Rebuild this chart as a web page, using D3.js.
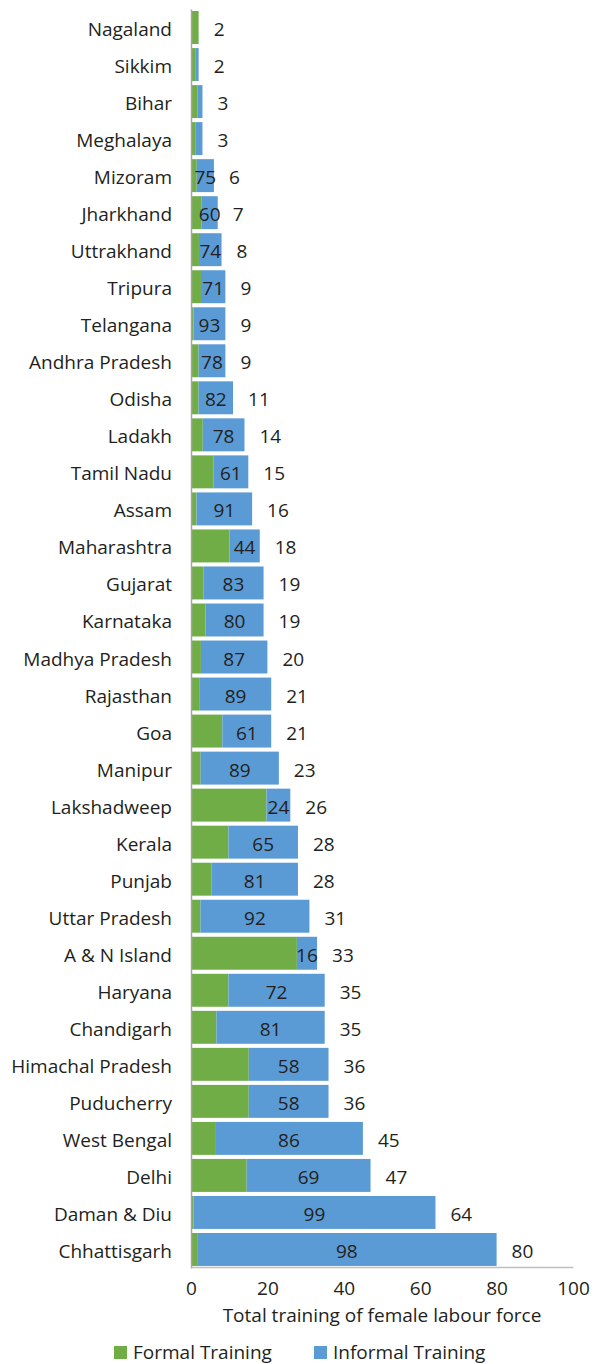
<!DOCTYPE html>
<html>
<head>
<meta charset="utf-8">
<script src="https://cdn.jsdelivr.net/npm/d3@7"></script>
<style>
  body { margin: 0; background: #fff; }
  svg { display: block; }
  text { font-family: "Open Sans", "Noto Sans", sans-serif; fill: #231f20; }
</style>
</head>
<body>
<svg id="chart" width="599" height="1364"></svg>
<script>
// States / UTs, ordered by total training of the female labour force
const states = [
  "Nagaland", "Sikkim", "Bihar", "Meghalaya", "Mizoram", "Jharkhand", "Uttrakhand",
  "Tripura", "Telangana", "Andhra Pradesh", "Odisha", "Ladakh", "Tamil Nadu", "Assam",
  "Maharashtra", "Gujarat", "Karnataka", "Madhya Pradesh", "Rajasthan", "Goa", "Manipur",
  "Lakshadweep", "Kerala", "Punjab", "Uttar Pradesh", "A & N Island", "Haryana",
  "Chandigarh", "Himachal Pradesh", "Puducherry", "West Bengal", "Delhi",
  "Daman & Diu", "Chhattisgarh"
];

// Total training (formal + informal)
const totals = [
  2, 2, 3, 3, 6, 7, 8,
  9, 9, 9, 11, 14, 15, 16,
  18, 19, 19, 20, 21, 21, 23,
  26, 28, 28, 31, 33, 35,
  35, 36, 36, 45, 47,
  64, 80
];

// Informal training as a share (%) of the total
const informalShare = [
  0, 45, 45, 63, 75, 60, 74,
  71, 93, 78, 82, 78, 61, 91,
  44, 83, 80, 87, 89, 61, 89,
  24, 65, 81, 92, 16, 72,
  81, 58, 58, 86, 69,
  99, 98
];

const seriesNames = ["Formal Training", "Informal Training"];
const xTicks = [0, 20, 40, 60, 80, 100];
const axisTitle = "Total training of female labour force";

const colors = { "Formal Training": "#70ad47", "Informal Training": "#5b9bd5" };

const rows = states.map((s, i) => ({
  state: s,
  total: totals[i],
  share: informalShare[i],
  "Formal Training": totals[i] * (100 - informalShare[i]) / 100,
  "Informal Training": totals[i] * informalShare[i] / 100
}));

const svg = d3.select("#chart");
const fs = 19;
const labelShift = 8.5; // baseline offset below bar centre

const x = d3.scaleLinear().domain([0, 100]).range([191, 573]);
const y = d3.scaleBand()
  .domain(states)
  .range([9, 1268])
  .paddingInner(0.11)
  .paddingOuter(0.055);
const yMid = s => y(s) + y.bandwidth() / 2;

const stacked = d3.stack().keys(seriesNames)(rows);

// Bars
svg.append("g")
  .selectAll("g")
  .data(stacked)
  .join("g")
  .attr("fill", d => colors[d.key])
  .selectAll("rect")
  .data(d => d)
  .join("rect")
  .attr("x", d => x(d[0]))
  .attr("y", d => y(d.data.state))
  .attr("width", d => x(d[1]) - x(d[0]))
  .attr("height", y.bandwidth());

// Informal share labels, centred on the informal segment
const informal = stacked[1];
svg.append("g")
  .selectAll("text")
  .data(informal.filter(d => x(d[1]) - x(d[0]) > 10))
  .join("text")
  .attr("x", d => (x(d[0]) + x(d[1])) / 2)
  .attr("y", d => yMid(d.data.state) + labelShift)
  .attr("text-anchor", "middle")
  .style("font-size", fs + "px")
  .text(d => d.data.share);

// Total labels to the right of each bar
svg.append("g")
  .selectAll("text")
  .data(rows)
  .join("text")
  .attr("x", d => x(d.total) + 15)
  .attr("y", d => yMid(d.state) + labelShift)
  .style("font-size", fs + "px")
  .text(d => d.total);

// Category axis
const yAxis = svg.append("g")
  .attr("transform", `translate(${x(0)},0)`)
  .call(d3.axisLeft(y).tickSize(0).tickPadding(19));
yAxis.select(".domain").attr("stroke", "#a6a6a6").attr("stroke-width", 1.5);
yAxis.selectAll(".tick text")
  .attr("dy", null)
  .attr("y", labelShift)
  .style("font-size", fs + "px")
  .style("font-family", "'Open Sans', 'Noto Sans', sans-serif")
  .attr("fill", "#231f20");

// Value axis
const xAxis = svg.append("g")
  .attr("transform", `translate(0,${y.range()[1] - 1})`)
  .call(d3.axisBottom(x).tickValues(xTicks).tickSize(0));
xAxis.select(".domain").attr("stroke", "#bfbfbf").attr("stroke-width", 1.5);
xAxis.selectAll(".tick text")
  .attr("dy", null)
  .attr("y", 28)
  .style("font-size", fs + "px")
  .style("font-family", "'Open Sans', 'Noto Sans', sans-serif")
  .attr("fill", "#231f20");

// Axis title
svg.append("text")
  .attr("x", (x(0) + x(100)) / 2)
  .attr("y", 1322)
  .attr("text-anchor", "middle")
  .style("font-size", fs + "px")
  .text(axisTitle);

// Legend
const legendX = [114, 314];
const legend = svg.append("g")
  .selectAll("g")
  .data(seriesNames)
  .join("g")
  .attr("transform", (d, i) => `translate(${legendX[i]},1346)`);
legend.append("rect")
  .attr("width", 13)
  .attr("height", 13)
  .attr("fill", d => colors[d]);
legend.append("text")
  .attr("x", 19)
  .attr("y", 13)
  .style("font-size", fs + "px")
  .text(d => d);
</script>
</body>
</html>
